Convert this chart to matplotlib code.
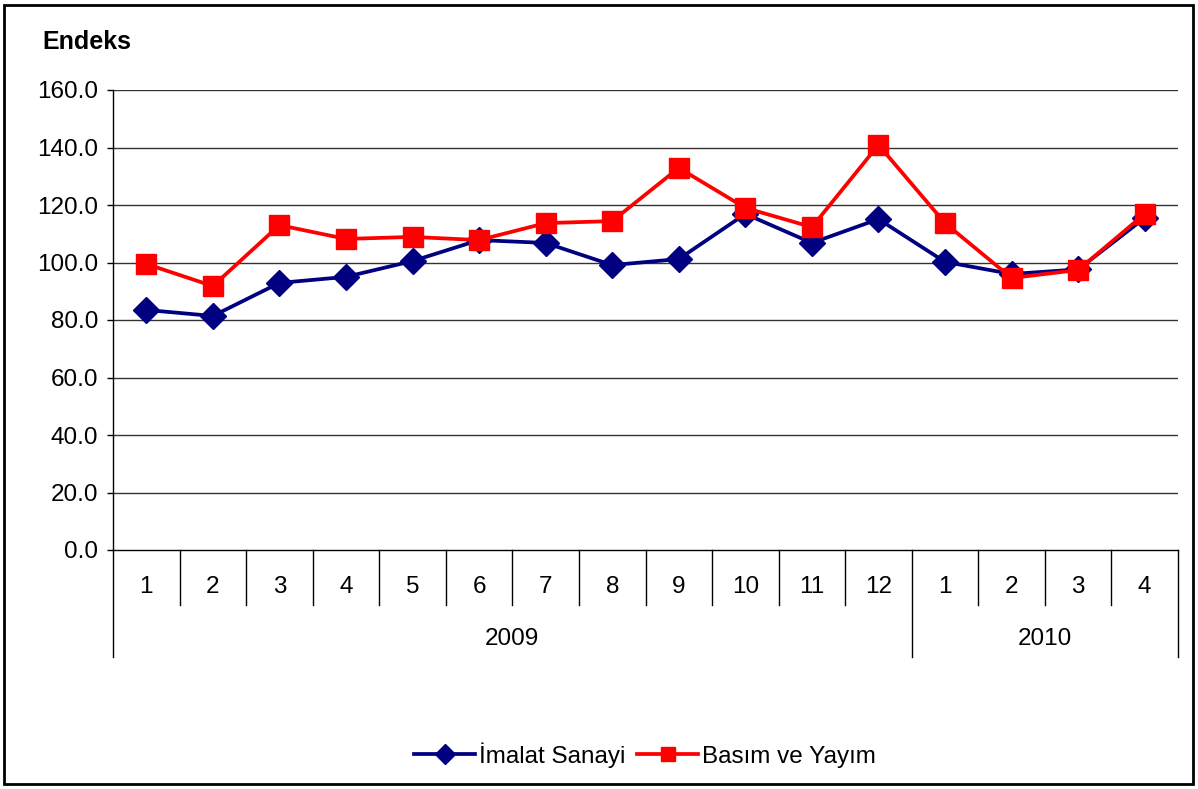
import matplotlib.pyplot as plt
from matplotlib.patches import Rectangle

plt.rcParams['font.family'] = ['Liberation Sans', 'DejaVu Sans']

months = ['1', '2', '3', '4', '5', '6', '7', '8', '9', '10', '11', '12', '1', '2', '3', '4']
years = ['2009', '2010']
year_lengths = [12, 4]
imalat = [83.5, 81.4, 92.9, 95.0, 100.5, 107.8, 106.8, 99.1, 101.2, 116.9,
          106.8, 115.1, 100.2, 96.0, 97.6, 115.5]
basim = [99.5, 91.8, 113.0, 108.2, 108.9, 107.8, 113.7, 114.4, 132.9, 119.0,
         112.3, 140.9, 113.7, 94.6, 97.4, 116.9]
yticks = [0, 20, 40, 60, 80, 100, 120, 140, 160]

FS = 17.5
W, H = 1198, 789
fig = plt.figure(figsize=(W / 100, H / 100), dpi=100)
ax = fig.add_axes([113 / W, (H - 550) / H, (1178 - 113) / W, (550 - 90) / H])

x = list(range(1, len(months) + 1))
ax.plot(x, imalat, color='#000080', lw=2.7, marker='D', ms=13,
        label='İmalat Sanayi', zorder=3)
ax.plot(x, basim, color='#ff0000', lw=2.7, marker='s', ms=14,
        label='Basım ve Yayım', zorder=4)

ax.set_xlim(0.5, len(months) + 0.5)
ax.set_ylim(0, 160)
ax.set_yticks(yticks)
ax.set_yticklabels([f'{v:.1f}' for v in yticks])
ax.tick_params(axis='y', labelsize=FS, length=4.5, width=1, pad=6, direction='out')
ax.set_xticks([])
for v in yticks[1:]:
    ax.axhline(v, color='#333333', lw=1, zorder=1)

for side in ['top', 'right']:
    ax.spines[side].set_visible(False)
ax.spines['left'].set_linewidth(1)
ax.spines['bottom'].set_linewidth(1)

# two-level category axis: month row then year row
trans = ax.get_xaxis_transform()
row1 = -(605 - 550) / 460
row2 = -(657 - 550) / 460
for i, m in enumerate(months):
    ax.text(i + 1, -(587 - 550) / 460, m, transform=trans, ha='center',
            va='center', fontsize=FS)
year_edges = [0]
for n in year_lengths:
    year_edges.append(year_edges[-1] + n)
for k in range(len(months) + 1):
    bottom = row2 if k in year_edges else row1
    ax.plot([k + 0.5, k + 0.5], [0, bottom], transform=trans, color='black',
            lw=1, clip_on=False)
for yr, a, b in zip(years, year_edges[:-1], year_edges[1:]):
    ax.text((a + b) / 2 + 0.5, -(639 - 550) / 460, yr, transform=trans,
            ha='center', va='center', fontsize=FS)

fig.text(42 / W, 1 - 42 / H, 'Endeks', fontsize=FS + 0.5, fontweight='bold',
         ha='left', va='center')

fig.legend(loc='center', bbox_to_anchor=(645 / W, 1 - 755 / H), ncol=2,
           frameon=False, fontsize=FS, handlelength=2.5, handletextpad=0.15,
           columnspacing=0.5, markerscale=0.75)

fig.patches.append(Rectangle((4 / W, 5 / H), (1193 - 4) / W, (784 - 5) / H,
                             transform=fig.transFigure, fill=False,
                             edgecolor='black', lw=2))

fig.savefig('out.png', dpi=100)
